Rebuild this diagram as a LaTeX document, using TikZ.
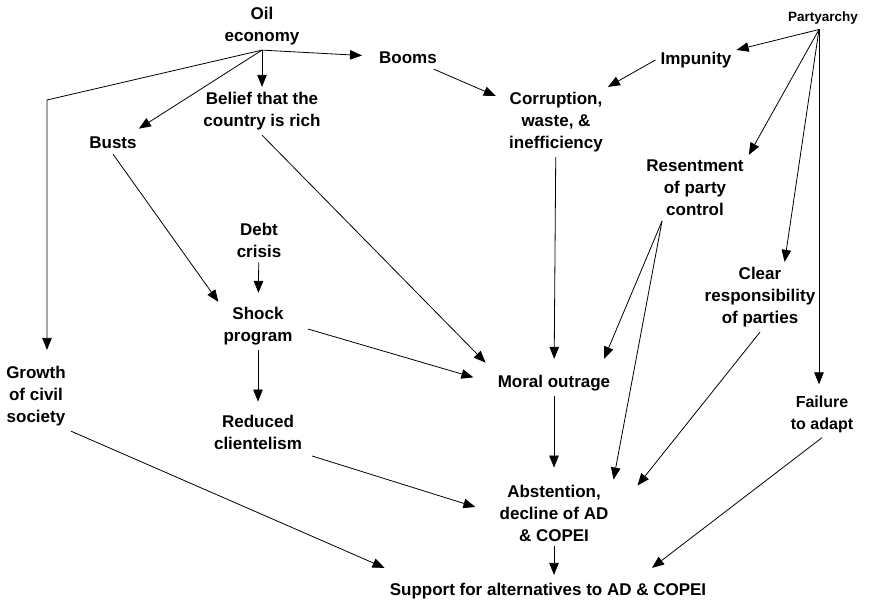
\documentclass[tikz,border=0pt]{standalone}
\usepackage{fontspec}
\setmainfont{Liberation Sans}
\usetikzlibrary{arrows.meta}

\begin{document}
\begin{tikzpicture}[
  x=1pt,y=-1pt,
  lbl/.style={font=\fontsize{17}{22}\selectfont\bfseries,align=center,inner sep=5pt},
  arr/.style={-{Triangle[length=12pt,width=9.5pt]},line width=0.8pt}
]
  \useasboundingbox (0,0) rectangle (869,609);
  \node[lbl] (oil) at (262,26) {Oil\\economy};
  \node[lbl] (booms) at (408,58) {Booms};
  \node[lbl] (belief) at (262,111) {Belief that the\\country is rich};
  \node[lbl] (busts) at (113,143) {Busts};
  \node[lbl] (corr) at (556,122) {Corruption,\\waste, \&\\inefficiency};
  \node[lbl] (impunity) at (696,60) {Impunity};
  \node[lbl,font=\fontsize{13.5}{16}\selectfont\bfseries] (party) at (823,18) {Partyarchy};
  \node[lbl] (resent) at (695,188) {Resentment\\of party\\control};
  \node[lbl] (debt) at (259,240) {Debt\\crisis};
  \node[lbl] (shock) at (258,326) {Shock\\program};
  \node[lbl] (clear) at (760,297) {Clear\\responsibility\\of parties};
  \node[lbl] (growth) at (36,396) {Growth\\of civil\\society};
  \node[lbl] (moral) at (554,383) {Moral outrage};
  \node[lbl,font=\fontsize{16}{22}\selectfont\bfseries] (failure) at (822,414) {Failure\\to adapt};
  \node[lbl] (reduced) at (258,432) {Reduced\\clientelism};
  \node[lbl] (abst) at (554,513) {Abstention,\\decline of AD\\\& COPEI};
  \node[lbl] (support) at (548,591) {Support for alternatives to AD \& COPEI};

  \coordinate (bend) at (47,100);
  \coordinate (partyhub) at ([xshift=-4pt]party.south);
  \coordinate (resenthub) at ([xshift=-33pt]resent.south);

  \draw[arr] (oil.south) -- (belief);
  \draw[arr,shorten >=6pt] (oil.south) -- ([xshift=-8pt]busts.north east);
  \draw[arr,shorten >=12pt] (oil.south) -- (booms);
  \draw[arr,shorten >=11pt] (oil.south) -- (bend) -- (bend |- growth.north);
  \draw[arr] (busts.south) -- (shock.north west);
  \draw[arr,shorten >=10pt] (belief.south) -- (moral.north west);
  \draw[arr,shorten >=9pt] (booms) -- (corr);
  \draw[arr] (impunity.west) -- (corr.north east);
  \draw[arr] (partyhub) -- (impunity);
  \draw[arr] (partyhub) -- (resent.north east);
  \draw[arr] (partyhub) -- (clear.55);
  \draw[arr,shorten >=6pt] (partyhub) -- (partyhub |- failure.north);
  \draw[arr,shorten >=11pt] (corr) -- (moral);
  \draw[arr,shorten >=12pt] (resenthub) -- ([xshift=-16pt]moral.north east);
  \draw[arr] (resenthub) -- (abst.north east);
  \draw[arr] (clear.south) -- ([xshift=24pt,yshift=-6pt]abst.north east);
  \draw[arr] (failure.south) -- ([xshift=104pt,yshift=10pt]support.north);
  \draw[arr,shorten >=12pt] (moral) -- (abst);
  \draw[arr,shorten <=11pt,shorten >=20pt] (shock.east) -- (moral.west);
  \draw[arr,shorten >=9pt] (debt) -- (shock);
  \draw[arr,shorten >=8pt] (shock) -- (reduced);
  \draw[arr,shorten <=5pt,shorten >=20pt] (reduced.south east) -- (abst.west);
  \draw[arr] (growth.south east) -- ([yshift=10pt]support.north west);
  \draw[arr,shorten >=3pt] (abst.south) -- (abst.south |- support.north);
\end{tikzpicture}
\end{document}
